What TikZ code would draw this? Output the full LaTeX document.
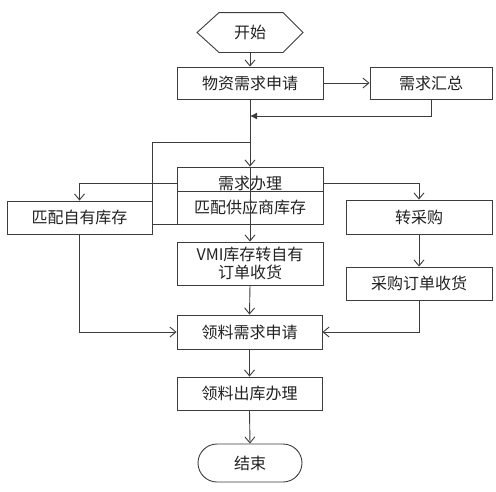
\documentclass[tikz,border=0pt]{standalone}
\usepackage{fontspec}
\setmainfont{Noto Sans CJK SC}
\usetikzlibrary{arrows.meta,calc}
\definecolor{ln}{HTML}{3C3C3C}
\definecolor{tx}{HTML}{222222}
\tikzset{
  box/.style={draw=ln, line width=0.9pt, fill=white, text=tx, minimum width=146pt, inner sep=0pt, align=center,
    font=\fontsize{16}{18}\selectfont},
  arr/.style={draw=ln, line width=0.9pt, -{Straight Barb[length=6pt,width=10pt]}},
  farr/.style={draw=ln, line width=0.9pt, -{Latex[length=7pt,width=7pt]}},
  ln/.style={draw=ln, line width=0.9pt},
}
\begin{document}
\begin{tikzpicture}[x=1pt,y=-1pt]
\useasboundingbox (0,0) rectangle (496,491);
% nodes
\node[box, draw=none, fill=none, minimum width=105pt, minimum height=39pt] (start) at (250,32.5) {开始};
\draw[ln] (start.west) -- ([xshift=22pt]start.north west) -- ([xshift=-20pt]start.north east) -- (start.east)
  -- ([xshift=-20pt]start.south east) -- ([xshift=22pt]start.south west) -- cycle;
\node[box, minimum height=32pt] (req) at (250,83) {物资需求申请};
\node[box, minimum width=122pt, minimum height=32pt] (sum) at (431,83) {需求汇总};
\node[box, minimum height=32pt] (proc) at (250,183) {需求办理};
\node[box, minimum height=33pt] (sup) at (250,207.5) {匹配供应商库存};
\node[box, minimum width=145pt, minimum height=33pt] (own) at (79.5,217.5) {匹配自有库存};
\node[box, minimum height=43pt] (vmi) at (250,263.5) {VMI库存转自有\\订单收货};
\node[box, minimum height=34pt] (buy) at (419,217) {转采购};
\node[box, minimum height=33pt] (order) at (419,283.5) {采购订单收货};
\node[box, minimum width=145pt, minimum height=34pt] (pick) at (249.5,332) {领料需求申请};
\node[box, minimum width=145pt, minimum height=33pt] (out) at (249.5,393.5) {领料出库办理};
\node[box, minimum width=104pt, minimum height=38pt, rounded corners=19pt] (end) at (250,463) {结束};
% coordinates
\coordinate (j1) at (250,116);
\coordinate (b1) at (250,142);
\coordinate (c2) at (own.east |- sup.south);
% connectors
\draw[arr] (start.south) -- (req.north);
\draw[arr] (req.east) -- (sum.west);
\draw[farr] (sum.south) |- (j1);
\draw[arr] (req.south) -- (proc.north);
\draw[ln] (b1) -| (c2) -- (sup.south west);
\draw[ln] (proc.north) -- (sup.south);
\draw[arr] (proc.west) -| (own.north);
\draw[arr] (proc.east) -| (buy.north);
\draw[arr] (sup.south) -- (vmi.north);
\draw[arr] (buy.south) -- (order.north);
\draw[arr] (own.south) |- (pick.west);
\draw[arr] (order.south) |- (pick.east);
\draw[arr] (vmi.south) -- (pick.north);
\draw[arr] (pick.south) -- (out.north);
\draw[arr] (out.south) -- (end.north);
\end{tikzpicture}
\end{document}
